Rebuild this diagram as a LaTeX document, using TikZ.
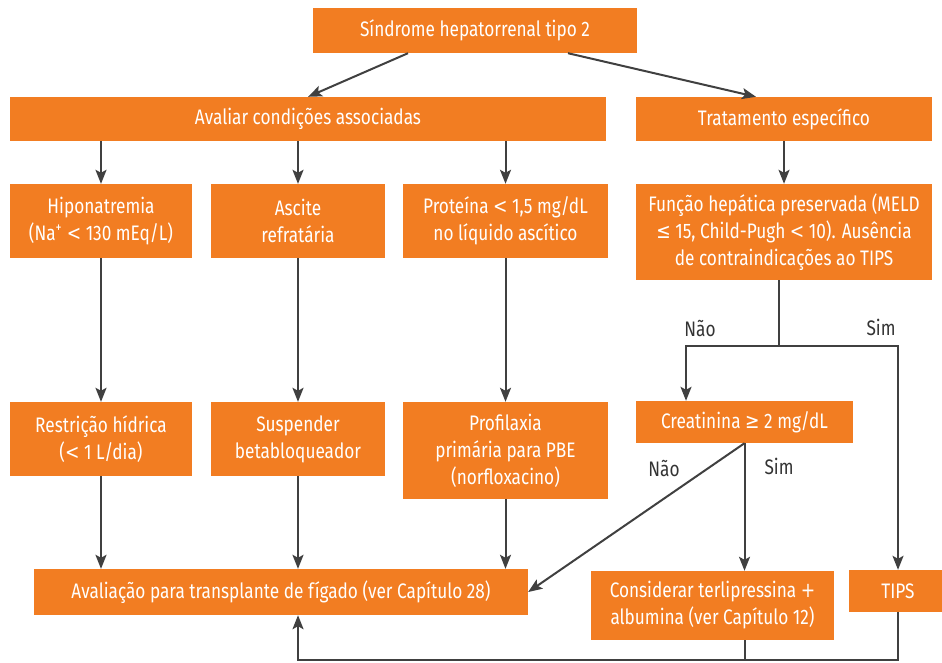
\documentclass[tikz,border=0pt]{standalone}
\usepackage{fontspec}
\setmainfont{Fira Sans}[FakeStretch=0.82]
\newfontfamily\symfont{DejaVu Sans}[FakeStretch=0.82]
\newcommand\symlt{{\symfont <}}
\newcommand\symle{{\symfont ≤}}
\newcommand\symge{{\symfont ≥}}
\newcommand\symplus{{\symfont +}}
\usetikzlibrary{arrows.meta}
\definecolor{boxorange}{HTML}{F27D22}
\definecolor{linegray}{HTML}{404040}
\definecolor{labelgray}{HTML}{333333}
\tikzset{
  box/.style={fill=boxorange, text=white, inner sep=0pt, align=center,
    font=\fontsize{21}{27}\selectfont},
  ln/.style={draw=linegray, line width=2pt},
  arr/.style={ln, -{Stealth[length=14pt,width=11pt,inset=3pt]}},
  lbl/.style={text=labelgray, inner sep=0pt, font=\fontsize{21}{27}\selectfont}
}
\begin{document}
\begin{tikzpicture}[x=1pt,y=-1pt]
\useasboundingbox (0,0) rectangle (942,662);

% boxes
\node[box, minimum width=324pt, minimum height=45pt] (top) at (475,30.5) {Síndrome hepatorrenal tipo 2};
\node[box, minimum width=596pt, minimum height=44pt] (aval) at (308,119) {Avaliar condições associadas};
\node[box, minimum width=296pt, minimum height=44pt] (trat) at (784,119) {Tratamento específico};

\node[box, minimum width=182pt, minimum height=74pt] (hipo) at (101,221) {Hiponatremia\\(Na\textsuperscript{+} \symlt{} 130 mEq/L)};
\node[box, minimum width=174pt, minimum height=74pt] (asc) at (298,221) {Ascite\\refratária};
\node[box, minimum width=205pt, minimum height=74pt] (prot) at (505.5,221) {Proteína \symlt{} 1,5 mg/dL\\no líquido ascítico};
\node[box, minimum width=296pt, minimum height=96pt] (func) at (784,232) {Função hepática preservada (MELD\\\symle{} 15, Child-Pugh \symlt{} 10). Ausência\\de contraindicações ao TIPS};

\node[box, minimum width=182pt, minimum height=74pt] (rest) at (101,439) {Restrição hídrica\\(\symlt{} 1 L/dia)};
\node[box, minimum width=174pt, minimum height=74pt] (susp) at (298,439) {Suspender\\betabloqueador};
\node[box, minimum width=205pt, minimum height=97pt] (prof) at (505.5,450.5) {Profilaxia\\primária para PBE\\(norfloxacino)};
\node[box, minimum width=217pt, minimum height=42pt] (creat) at (744.5,422) {Creatinina \symge{} 2 mg/dL};

\node[box, minimum width=494pt, minimum height=46pt] (avalt) at (281,592) {Avaliação para transplante de fígado (ver Capítulo 28)};
\node[box, minimum width=243pt, minimum height=69pt] (cons) at (712.5,605.5) {Considerar terlipressina \symplus\\albumina (ver Capítulo 12)};
\node[box, minimum width=98pt, minimum height=42pt] (tips) at (898,591) {TIPS};

% branch labels
\node[lbl] (nao1) at (700,328) {Não};
\node[lbl] (sim1) at (881,327) {Sim};
\node[lbl] (nao2) at (664,468) {Não};
\node[lbl] (sim2) at (779,466) {Sim};

% helper points
\coordinate (split) at (779,346);
\coordinate (bot) at (0,660);

% connectors
\draw[arr] ([xshift=-67pt]top.south) -- (aval.north);
\draw[arr] ([xshift=93pt]top.south) -- ([xshift=-28pt]trat.north);

\draw[arr] (aval.south -| hipo.north) -- (hipo.north);
\draw[arr] (aval.south -| asc.north) -- (asc.north);
\draw[arr] (aval.south -| prot.north) -- (prot.north);
\draw[arr] (trat.south) -- (func.north);

\draw[arr] (hipo.south) -- (rest.north);
\draw[arr] (asc.south) -- (susp.north);
\draw[arr] (prot.south) -- (prof.north);

\draw[arr] (rest.south) -- (rest.south |- avalt.north);
\draw[arr] (susp.south) -- (susp.south |- avalt.north);
\draw[arr] (prof.south) -- (prof.south |- avalt.north);

\draw[ln] (func.south -| split) -- (split);
\draw[arr] (split) -| ([xshift=-58.5pt]creat.north);
\draw[arr] (split) -| (tips.north);

\draw[arr] (creat.south) -- (avalt.east);
\draw[arr] (creat.south) -- (creat.south |- cons.north);

\draw[ln] (creat.south |- cons.south) -- (creat.south |- bot);
\draw[arr] (tips.south) -- (tips.south |- bot) -- (susp.south |- bot) -- (susp.south |- avalt.south);
\end{tikzpicture}
\end{document}
